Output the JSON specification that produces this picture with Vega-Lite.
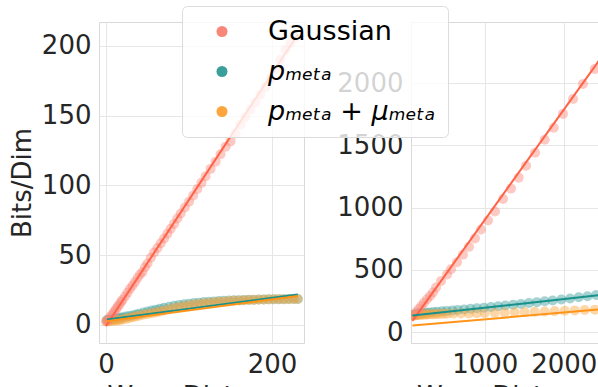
{
  "$schema": "https://vega.github.io/schema/vega-lite/v6.json",
  "padding": {"left": 8, "top": 5, "right": -10, "bottom": -18},
  "background": "white",
  "config": {
    "font": "DejaVu Sans",
    "view": {"stroke": "#d9d9d9", "strokeWidth": 1},
    "style": {"guide-label": {"fontSize": 26, "font": "DejaVu Sans"}, "guide-title": {"fontSize": 26, "font": "DejaVu Sans"}},
    "axis": {"grid": true, "gridColor": "#e6e6e6", "gridWidth": 1, "domain": false, "ticks": false, "labelFontSize": 26, "labelColor": "#262626", "titleFontSize": 26, "titleColor": "#262626", "titleFontWeight": "normal", "labelPadding": 8, "titlePadding": 6, "format": "d", "titleAnchor": "middle"},
    "concat": {"spacing": 31}
  },
  "datasets": {
    "leftPoints": [
      {"s": "pₘₑₜₐ", "x": 1, "y": 3.5}, {"s": "pₘₑₜₐ", "x": 3, "y": 3.6}, {"s": "pₘₑₜₐ", "x": 5, "y": 3.8}, {"s": "pₘₑₜₐ", "x": 8, "y": 4.0}, {"s": "pₘₑₜₐ", "x": 11, "y": 4.3}, {"s": "pₘₑₜₐ", "x": 14, "y": 4.7}, {"s": "pₘₑₜₐ", "x": 17, "y": 5.1}, {"s": "pₘₑₜₐ", "x": 20, "y": 5.5}, {"s": "pₘₑₜₐ", "x": 24, "y": 6.0}, {"s": "pₘₑₜₐ", "x": 28, "y": 6.4}, {"s": "pₘₑₜₐ", "x": 32, "y": 6.8}, {"s": "pₘₑₜₐ", "x": 36, "y": 7.5}, {"s": "pₘₑₜₐ", "x": 40, "y": 8.1}, {"s": "pₘₑₜₐ", "x": 45, "y": 9.0}, {"s": "pₘₑₜₐ", "x": 50, "y": 9.7}, {"s": "pₘₑₜₐ", "x": 55, "y": 10.4}, {"s": "pₘₑₜₐ", "x": 60, "y": 11.0}, {"s": "pₘₑₜₐ", "x": 65, "y": 11.7}, {"s": "pₘₑₜₐ", "x": 70, "y": 12.3}, {"s": "pₘₑₜₐ", "x": 76, "y": 13.1}, {"s": "pₘₑₜₐ", "x": 82, "y": 13.8}, {"s": "pₘₑₜₐ", "x": 88, "y": 14.4}, {"s": "pₘₑₜₐ", "x": 94, "y": 14.9}, {"s": "pₘₑₜₐ", "x": 100, "y": 15.3}, {"s": "pₘₑₜₐ", "x": 106, "y": 15.7}, {"s": "pₘₑₜₐ", "x": 112, "y": 16.0}, {"s": "pₘₑₜₐ", "x": 118, "y": 16.4}, {"s": "pₘₑₜₐ", "x": 124, "y": 16.7}, {"s": "pₘₑₜₐ", "x": 130, "y": 16.9}, {"s": "pₘₑₜₐ", "x": 136, "y": 17.1}, {"s": "pₘₑₜₐ", "x": 142, "y": 17.3}, {"s": "pₘₑₜₐ", "x": 148, "y": 17.5}, {"s": "pₘₑₜₐ", "x": 154, "y": 17.7}, {"s": "pₘₑₜₐ", "x": 160, "y": 17.8}, {"s": "pₘₑₜₐ", "x": 166, "y": 17.9}, {"s": "pₘₑₜₐ", "x": 172, "y": 18.0}, {"s": "pₘₑₜₐ", "x": 178, "y": 18.1}, {"s": "pₘₑₜₐ", "x": 184, "y": 18.2}, {"s": "pₘₑₜₐ", "x": 190, "y": 18.3}, {"s": "pₘₑₜₐ", "x": 196, "y": 18.4}, {"s": "pₘₑₜₐ", "x": 202, "y": 18.4}, {"s": "pₘₑₜₐ", "x": 208, "y": 18.5}, {"s": "pₘₑₜₐ", "x": 214, "y": 18.5}, {"s": "pₘₑₜₐ", "x": 220, "y": 18.6}, {"s": "pₘₑₜₐ", "x": 226, "y": 18.6}, {"s": "pₘₑₜₐ", "x": 231, "y": 18.6},
      {"s": "pₘₑₜₐ + μₘₑₜₐ", "x": 1, "y": 2.6}, {"s": "pₘₑₜₐ + μₘₑₜₐ", "x": 3, "y": 2.7}, {"s": "pₘₑₜₐ + μₘₑₜₐ", "x": 5, "y": 2.8}, {"s": "pₘₑₜₐ + μₘₑₜₐ", "x": 8, "y": 2.9}, {"s": "pₘₑₜₐ + μₘₑₜₐ", "x": 11, "y": 3.1}, {"s": "pₘₑₜₐ + μₘₑₜₐ", "x": 14, "y": 3.3}, {"s": "pₘₑₜₐ + μₘₑₜₐ", "x": 17, "y": 3.6}, {"s": "pₘₑₜₐ + μₘₑₜₐ", "x": 20, "y": 3.9}, {"s": "pₘₑₜₐ + μₘₑₜₐ", "x": 24, "y": 4.4}, {"s": "pₘₑₜₐ + μₘₑₜₐ", "x": 28, "y": 5.0}, {"s": "pₘₑₜₐ + μₘₑₜₐ", "x": 32, "y": 5.6}, {"s": "pₘₑₜₐ + μₘₑₜₐ", "x": 36, "y": 6.1}, {"s": "pₘₑₜₐ + μₘₑₜₐ", "x": 40, "y": 6.7}, {"s": "pₘₑₜₐ + μₘₑₜₐ", "x": 45, "y": 7.3}, {"s": "pₘₑₜₐ + μₘₑₜₐ", "x": 50, "y": 7.9}, {"s": "pₘₑₜₐ + μₘₑₜₐ", "x": 55, "y": 8.4}, {"s": "pₘₑₜₐ + μₘₑₜₐ", "x": 60, "y": 9.0}, {"s": "pₘₑₜₐ + μₘₑₜₐ", "x": 65, "y": 9.7}, {"s": "pₘₑₜₐ + μₘₑₜₐ", "x": 70, "y": 10.4}, {"s": "pₘₑₜₐ + μₘₑₜₐ", "x": 76, "y": 11.3}, {"s": "pₘₑₜₐ + μₘₑₜₐ", "x": 82, "y": 12.1}, {"s": "pₘₑₜₐ + μₘₑₜₐ", "x": 88, "y": 12.8}, {"s": "pₘₑₜₐ + μₘₑₜₐ", "x": 94, "y": 13.5}, {"s": "pₘₑₜₐ + μₘₑₜₐ", "x": 100, "y": 14.1}, {"s": "pₘₑₜₐ + μₘₑₜₐ", "x": 106, "y": 14.6}, {"s": "pₘₑₜₐ + μₘₑₜₐ", "x": 112, "y": 15.1}, {"s": "pₘₑₜₐ + μₘₑₜₐ", "x": 118, "y": 15.5}, {"s": "pₘₑₜₐ + μₘₑₜₐ", "x": 124, "y": 15.9}, {"s": "pₘₑₜₐ + μₘₑₜₐ", "x": 130, "y": 16.3}, {"s": "pₘₑₜₐ + μₘₑₜₐ", "x": 136, "y": 16.6}, {"s": "pₘₑₜₐ + μₘₑₜₐ", "x": 142, "y": 16.9}, {"s": "pₘₑₜₐ + μₘₑₜₐ", "x": 148, "y": 17.2}, {"s": "pₘₑₜₐ + μₘₑₜₐ", "x": 154, "y": 17.4}, {"s": "pₘₑₜₐ + μₘₑₜₐ", "x": 160, "y": 17.6}, {"s": "pₘₑₜₐ + μₘₑₜₐ", "x": 166, "y": 17.8}, {"s": "pₘₑₜₐ + μₘₑₜₐ", "x": 172, "y": 17.9}, {"s": "pₘₑₜₐ + μₘₑₜₐ", "x": 178, "y": 18.0}, {"s": "pₘₑₜₐ + μₘₑₜₐ", "x": 184, "y": 18.1}, {"s": "pₘₑₜₐ + μₘₑₜₐ", "x": 190, "y": 18.2}, {"s": "pₘₑₜₐ + μₘₑₜₐ", "x": 196, "y": 18.3}, {"s": "pₘₑₜₐ + μₘₑₜₐ", "x": 202, "y": 18.4}, {"s": "pₘₑₜₐ + μₘₑₜₐ", "x": 208, "y": 18.4}, {"s": "pₘₑₜₐ + μₘₑₜₐ", "x": 214, "y": 18.5}, {"s": "pₘₑₜₐ + μₘₑₜₐ", "x": 220, "y": 18.5}, {"s": "pₘₑₜₐ + μₘₑₜₐ", "x": 226, "y": 18.6}, {"s": "pₘₑₜₐ + μₘₑₜₐ", "x": 231, "y": 18.6},
      {"s": "Gaussian", "x": 0, "y": 2.5}, {"s": "Gaussian", "x": 2, "y": 3.2}, {"s": "Gaussian", "x": 4, "y": 4.8}, {"s": "Gaussian", "x": 6, "y": 6.3}, {"s": "Gaussian", "x": 8, "y": 7.9}, {"s": "Gaussian", "x": 10, "y": 9.6}, {"s": "Gaussian", "x": 12, "y": 11.2}, {"s": "Gaussian", "x": 14, "y": 13.1}, {"s": "Gaussian", "x": 16, "y": 14.6}, {"s": "Gaussian", "x": 18, "y": 16.4}, {"s": "Gaussian", "x": 20, "y": 18.0}, {"s": "Gaussian", "x": 23, "y": 20.6}, {"s": "Gaussian", "x": 26, "y": 23.2}, {"s": "Gaussian", "x": 29, "y": 25.9}, {"s": "Gaussian", "x": 32, "y": 28.3}, {"s": "Gaussian", "x": 35, "y": 30.8}, {"s": "Gaussian", "x": 38, "y": 33.6}, {"s": "Gaussian", "x": 41, "y": 36.1}, {"s": "Gaussian", "x": 44, "y": 38.0}, {"s": "Gaussian", "x": 47, "y": 41.3}, {"s": "Gaussian", "x": 50, "y": 44.0}, {"s": "Gaussian", "x": 54, "y": 48.2}, {"s": "Gaussian", "x": 58, "y": 52.0}, {"s": "Gaussian", "x": 62, "y": 55.1}, {"s": "Gaussian", "x": 66, "y": 58.6}, {"s": "Gaussian", "x": 70, "y": 62.0}, {"s": "Gaussian", "x": 74, "y": 65.3}, {"s": "Gaussian", "x": 78, "y": 68.9}, {"s": "Gaussian", "x": 82, "y": 72.4}, {"s": "Gaussian", "x": 86, "y": 76.3}, {"s": "Gaussian", "x": 90, "y": 79.8}, {"s": "Gaussian", "x": 95, "y": 84.1}, {"s": "Gaussian", "x": 100, "y": 88.2}, {"s": "Gaussian", "x": 105, "y": 92.7}, {"s": "Gaussian", "x": 110, "y": 97.4}, {"s": "Gaussian", "x": 115, "y": 101.8}, {"s": "Gaussian", "x": 120, "y": 106.5}, {"s": "Gaussian", "x": 126, "y": 111.8}, {"s": "Gaussian", "x": 132, "y": 117.0}, {"s": "Gaussian", "x": 138, "y": 122.3}, {"s": "Gaussian", "x": 144, "y": 127.6}, {"s": "Gaussian", "x": 150, "y": 131.5}, {"s": "Gaussian", "x": 156, "y": 137.2}, {"s": "Gaussian", "x": 162, "y": 143.5}, {"s": "Gaussian", "x": 168, "y": 148.9}, {"s": "Gaussian", "x": 174, "y": 154.2}, {"s": "Gaussian", "x": 180, "y": 159.4}, {"s": "Gaussian", "x": 186, "y": 165.0}, {"s": "Gaussian", "x": 192, "y": 170.2}, {"s": "Gaussian", "x": 198, "y": 176.1}, {"s": "Gaussian", "x": 204, "y": 183.0}, {"s": "Gaussian", "x": 210, "y": 190.1}, {"s": "Gaussian", "x": 216, "y": 197.0}, {"s": "Gaussian", "x": 222, "y": 201.8}, {"s": "Gaussian", "x": 228, "y": 206.0}
    ],
    "leftFit": [
      {"s": "Gaussian", "x": 0, "y": -0.7}, {"s": "Gaussian", "x": 231, "y": 208.1},
      {"s": "pₘₑₜₐ", "x": 1, "y": 3.9}, {"s": "pₘₑₜₐ", "x": 231, "y": 21.9},
      {"s": "pₘₑₜₐ + μₘₑₜₐ", "x": 1, "y": 2.7}, {"s": "pₘₑₜₐ + μₘₑₜₐ", "x": 231, "y": 20.7}
    ],
    "rightPoints": [
      {"s": "pₘₑₜₐ", "x": 100, "y": 140}, {"s": "pₘₑₜₐ", "x": 130, "y": 143}, {"s": "pₘₑₜₐ", "x": 160, "y": 146}, {"s": "pₘₑₜₐ", "x": 190, "y": 149}, {"s": "pₘₑₜₐ", "x": 220, "y": 151}, {"s": "pₘₑₜₐ", "x": 260, "y": 154}, {"s": "pₘₑₜₐ", "x": 300, "y": 157}, {"s": "pₘₑₜₐ", "x": 350, "y": 160}, {"s": "pₘₑₜₐ", "x": 400, "y": 163}, {"s": "pₘₑₜₐ", "x": 460, "y": 166}, {"s": "pₘₑₜₐ", "x": 520, "y": 170}, {"s": "pₘₑₜₐ", "x": 590, "y": 174}, {"s": "pₘₑₜₐ", "x": 660, "y": 178}, {"s": "pₘₑₜₐ", "x": 740, "y": 182}, {"s": "pₘₑₜₐ", "x": 820, "y": 187}, {"s": "pₘₑₜₐ", "x": 900, "y": 191}, {"s": "pₘₑₜₐ", "x": 990, "y": 196}, {"s": "pₘₑₜₐ", "x": 1080, "y": 201}, {"s": "pₘₑₜₐ", "x": 1170, "y": 207}, {"s": "pₘₑₜₐ", "x": 1260, "y": 213}, {"s": "pₘₑₜₐ", "x": 1360, "y": 219}, {"s": "pₘₑₜₐ", "x": 1460, "y": 226}, {"s": "pₘₑₜₐ", "x": 1560, "y": 233}, {"s": "pₘₑₜₐ", "x": 1660, "y": 240}, {"s": "pₘₑₜₐ", "x": 1760, "y": 247}, {"s": "pₘₑₜₐ", "x": 1860, "y": 254}, {"s": "pₘₑₜₐ", "x": 1970, "y": 262}, {"s": "pₘₑₜₐ", "x": 2080, "y": 270}, {"s": "pₘₑₜₐ", "x": 2190, "y": 279}, {"s": "pₘₑₜₐ", "x": 2300, "y": 288}, {"s": "pₘₑₜₐ", "x": 2410, "y": 297}, {"s": "pₘₑₜₐ", "x": 2520, "y": 305},
      {"s": "pₘₑₜₐ + μₘₑₜₐ", "x": 100, "y": 132}, {"s": "pₘₑₜₐ + μₘₑₜₐ", "x": 120, "y": 134}, {"s": "pₘₑₜₐ + μₘₑₜₐ", "x": 140, "y": 136}, {"s": "pₘₑₜₐ + μₘₑₜₐ", "x": 160, "y": 137}, {"s": "pₘₑₜₐ + μₘₑₜₐ", "x": 185, "y": 138}, {"s": "pₘₑₜₐ + μₘₑₜₐ", "x": 210, "y": 139}, {"s": "pₘₑₜₐ + μₘₑₜₐ", "x": 240, "y": 140}, {"s": "pₘₑₜₐ + μₘₑₜₐ", "x": 270, "y": 141}, {"s": "pₘₑₜₐ + μₘₑₜₐ", "x": 300, "y": 142}, {"s": "pₘₑₜₐ + μₘₑₜₐ", "x": 340, "y": 143}, {"s": "pₘₑₜₐ + μₘₑₜₐ", "x": 380, "y": 144}, {"s": "pₘₑₜₐ + μₘₑₜₐ", "x": 420, "y": 145}, {"s": "pₘₑₜₐ + μₘₑₜₐ", "x": 470, "y": 146}, {"s": "pₘₑₜₐ + μₘₑₜₐ", "x": 520, "y": 147}, {"s": "pₘₑₜₐ + μₘₑₜₐ", "x": 600, "y": 148}, {"s": "pₘₑₜₐ + μₘₑₜₐ", "x": 700, "y": 149}, {"s": "pₘₑₜₐ + μₘₑₜₐ", "x": 800, "y": 150}, {"s": "pₘₑₜₐ + μₘₑₜₐ", "x": 900, "y": 151}, {"s": "pₘₑₜₐ + μₘₑₜₐ", "x": 1000, "y": 152}, {"s": "pₘₑₜₐ + μₘₑₜₐ", "x": 1127, "y": 154}, {"s": "pₘₑₜₐ + μₘₑₜₐ", "x": 1253, "y": 156}, {"s": "pₘₑₜₐ + μₘₑₜₐ", "x": 1380, "y": 158}, {"s": "pₘₑₜₐ + μₘₑₜₐ", "x": 1506, "y": 160}, {"s": "pₘₑₜₐ + μₘₑₜₐ", "x": 1633, "y": 163}, {"s": "pₘₑₜₐ + μₘₑₜₐ", "x": 1760, "y": 165}, {"s": "pₘₑₜₐ + μₘₑₜₐ", "x": 1886, "y": 168}, {"s": "pₘₑₜₐ + μₘₑₜₐ", "x": 2013, "y": 171}, {"s": "pₘₑₜₐ + μₘₑₜₐ", "x": 2140, "y": 174}, {"s": "pₘₑₜₐ + μₘₑₜₐ", "x": 2266, "y": 177}, {"s": "pₘₑₜₐ + μₘₑₜₐ", "x": 2393, "y": 180}, {"s": "pₘₑₜₐ + μₘₑₜₐ", "x": 2520, "y": 183},
      {"s": "Gaussian", "x": 105, "y": 136}, {"s": "Gaussian", "x": 134, "y": 160}, {"s": "Gaussian", "x": 165, "y": 185}, {"s": "Gaussian", "x": 197, "y": 208}, {"s": "Gaussian", "x": 232, "y": 236}, {"s": "Gaussian", "x": 270, "y": 264}, {"s": "Gaussian", "x": 308, "y": 290}, {"s": "Gaussian", "x": 346, "y": 318}, {"s": "Gaussian", "x": 384, "y": 358}, {"s": "Gaussian", "x": 447, "y": 410}, {"s": "Gaussian", "x": 523, "y": 462}, {"s": "Gaussian", "x": 573, "y": 505}, {"s": "Gaussian", "x": 649, "y": 560}, {"s": "Gaussian", "x": 725, "y": 622}, {"s": "Gaussian", "x": 801, "y": 684}, {"s": "Gaussian", "x": 877, "y": 752}, {"s": "Gaussian", "x": 953, "y": 824}, {"s": "Gaussian", "x": 1042, "y": 896}, {"s": "Gaussian", "x": 1130, "y": 968}, {"s": "Gaussian", "x": 1232, "y": 1068}, {"s": "Gaussian", "x": 1333, "y": 1152}, {"s": "Gaussian", "x": 1430, "y": 1240}, {"s": "Gaussian", "x": 1523, "y": 1336}, {"s": "Gaussian", "x": 1637, "y": 1440}, {"s": "Gaussian", "x": 1759, "y": 1544}, {"s": "Gaussian", "x": 1873, "y": 1640}, {"s": "Gaussian", "x": 1991, "y": 1752}, {"s": "Gaussian", "x": 2118, "y": 1872}, {"s": "Gaussian", "x": 2244, "y": 1992}, {"s": "Gaussian", "x": 2392, "y": 2112}, {"s": "Gaussian", "x": 2540, "y": 2240}
    ],
    "rightFit": [
      {"s": "Gaussian", "x": 85, "y": 89.7}, {"s": "Gaussian", "x": 2700, "y": 2404},
      {"s": "pₘₑₜₐ", "x": 85, "y": 132}, {"s": "pₘₑₜₐ", "x": 2700, "y": 313},
      {"s": "pₘₑₜₐ + μₘₑₜₐ", "x": 85, "y": 52.6}, {"s": "pₘₑₜₐ + μₘₑₜₐ", "x": 2700, "y": 194.6}
    ]
  },
  "hconcat": [
    {
      "width": 205,
      "height": 321,
      "layer": [
        {
          "data": {"name": "leftPoints"},
          "mark": {"type": "circle", "size": 100, "fillOpacity": 0.45},
          "encoding": {
            "x": {"field": "x", "type": "quantitative", "scale": {"domain": [-8.4, 238.5], "nice": false, "zero": false}, "axis": {"values": [0, 200], "title": "Wass Distance", "labelFontSize": 26, "titleFontSize": 26}},
            "y": {"field": "y", "type": "quantitative", "scale": {"domain": [-12.9, 217], "nice": false, "zero": false}, "axis": {"values": [0, 50, 100, 150, 200], "title": "Bits/Dim", "labelFontSize": 26, "titleFontSize": 26}},
            "color": {
              "field": "s", "type": "nominal",
              "scale": {"domain": ["Gaussian", "pₘₑₜₐ", "pₘₑₜₐ + μₘₑₜₐ"], "range": ["#f8877a", "#3a9e9a", "#fda63d"]},
              "legend": {"orient": "none", "legendX": 83, "legendY": -16, "title": null, "fillColor": "rgba(255,255,255,0.8)", "strokeColor": "#dcdcdc", "cornerRadius": 5, "padding": 12, "symbolType": "circle", "symbolSize": 121, "symbolOpacity": 1, "symbolFillOpacity": 1, "symbolStrokeWidth": 0, "symbolOffset": 14.5, "labelOffset": 32.5, "rowPadding": 12, "labelFontSize": 27, "labelColor": "black", "labelLimit": 0, "labelFontStyle": {"expr": "datum.label === 'Gaussian' ? 'normal' : 'italic'"}}
            }
          }
        },
        {
          "data": {"name": "leftFit"},
          "mark": {"type": "line", "strokeWidth": 2},
          "encoding": {
            "x": {"field": "x", "type": "quantitative"},
            "y": {"field": "y", "type": "quantitative"},
            "detail": {"field": "s"},
            "stroke": {"field": "s", "type": "nominal", "scale": {"domain": ["Gaussian", "pₘₑₜₐ", "pₘₑₜₐ + μₘₑₜₐ"], "range": ["#ff6347", "#17918b", "#ff9418"]}, "legend": null}
          }
        }
      ]
    },
    {
      "width": 200,
      "height": 321,
      "layer": [
        {
          "data": {"name": "rightPoints"},
          "mark": {"type": "circle", "size": 100, "fillOpacity": 0.45, "clip": true},
          "encoding": {
            "x": {"field": "x", "type": "quantitative", "scale": {"domain": [67, 2598.6], "nice": false, "zero": false}, "axis": {"values": [1000, 2000], "title": "Wass Distance", "labelFontSize": 26, "titleFontSize": 26}},
            "y": {"field": "y", "type": "quantitative", "scale": {"domain": [-88, 2490], "nice": false, "zero": false}, "axis": {"values": [0, 500, 1000, 1500, 2000], "title": null, "labelFontSize": 26}},
            "color": {"field": "s", "type": "nominal"}
          }
        },
        {
          "data": {"name": "rightFit"},
          "mark": {"type": "line", "strokeWidth": 2, "clip": true},
          "encoding": {
            "x": {"field": "x", "type": "quantitative"},
            "y": {"field": "y", "type": "quantitative"},
            "detail": {"field": "s"},
            "stroke": {"field": "s", "type": "nominal", "legend": null}
          }
        }
      ]
    }
  ]
}
